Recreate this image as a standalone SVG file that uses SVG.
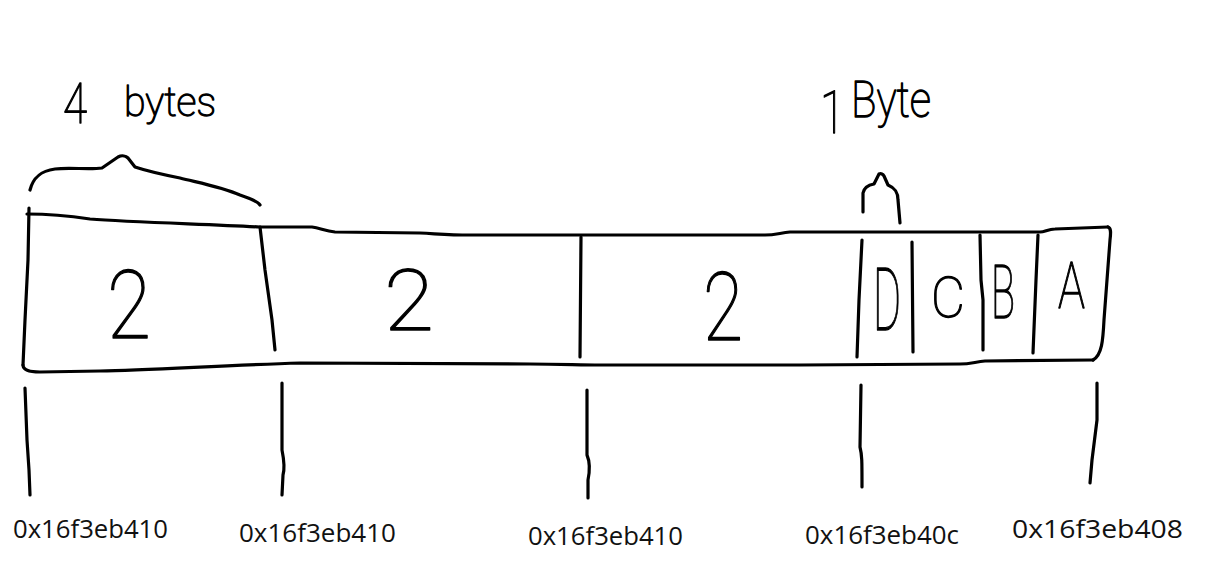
<svg xmlns="http://www.w3.org/2000/svg" width="1212" height="568" viewBox="0 0 1212 568">
<style>
.s{fill:none;stroke:#000;stroke-width:3.2;stroke-linecap:round;stroke-linejoin:round}
.h{font-family:Roboto,"DejaVu Sans",sans-serif;font-weight:100;fill:#000;stroke:#000;stroke-width:1.3;stroke-linejoin:round}
.a{font-family:"Open Sans","Noto Sans",sans-serif;font-size:25px;fill:#111}
</style>
<rect width="1212" height="568" fill="#fff"/>
<g id="bar">
<path class="s" d="M27,214 C45,214 70,216 90,219 C130,222 200,224 260,227 L312,227 C320,228 325,231 335,232 L420,233 C440,234 450,235 470,235 L765,235 C775,235 780,233 790,232 L1040,232 C1045,232 1048,229 1055,229 L1108,227"/>
<path class="s" d="M1108,227 C1111,228 1111,232 1110,240 L1104,320 C1103,340 1102,355 1093,360"/>
<path class="s" d="M1093,360 L985,361 C975,362 970,364 960,364 L800,365 L600,365 C580,365 560,364 530,364 L300,363 C230,365 150,370 100,371 L40,372 C28,372 23,370 23,365"/>
<path class="s" d="M29,208 L28,260 L25,320 L23,365"/>
</g>
<g id="cell-1">
<path class="s" d="M260,227 L265,270 L272,320 L275,350"/>
<text class="h" x="107" y="338" font-size="95" textLength="44" lengthAdjust="spacingAndGlyphs">2</text>
</g>
<g id="cell-2">
<path class="s" d="M581,237 L580,357"/>
<text class="h" x="384" y="330" font-size="85" textLength="50" lengthAdjust="spacingAndGlyphs">2</text>
</g>
<g id="cell-3">
<path class="s" d="M862,240 L859,300 L857,357"/>
<text class="h" x="703" y="340" font-size="95" textLength="40" lengthAdjust="spacingAndGlyphs">2</text>
</g>
<g id="byte-D">
<path class="s" d="M912,242 L913,352"/>
<text class="h" x="873" y="330" font-size="88" textLength="28" lengthAdjust="spacingAndGlyphs">D</text>
</g>
<g id="byte-C">
<path class="s" d="M980,235 L981,280 L983,300 L983,350"/>
<text class="h" x="931" y="317" font-size="56" textLength="34" lengthAdjust="spacingAndGlyphs">C</text>
</g>
<g id="byte-B">
<path class="s" d="M1038,235 L1036,280 L1033,353"/>
<text class="h" x="991" y="318" font-size="75" textLength="24" lengthAdjust="spacingAndGlyphs">B</text>
</g>
<g id="byte-A">
<text class="h" x="1058" y="308" font-size="65" textLength="27" lengthAdjust="spacingAndGlyphs">A</text>
</g>
<g id="label-4bytes">
<path class="s" d="M30,190 C33,178 40,171 55,169 C70,167 88,170 102,168 L118,157 C122,155 126,156 128,158 L135,167 C150,172 165,175 180,178 C200,183 222,187 240,195 C252,199 258,202 260,205"/>
<text class="h" x="63" y="123" font-size="56" textLength="24" lengthAdjust="spacingAndGlyphs">4</text>
<text class="h" x="124" y="116" font-size="40" textLength="92" lengthAdjust="spacingAndGlyphs">bytes</text>
</g>
<g id="label-1byte">
<path class="s" d="M863,212 L863,193 C864,188 868,185 874,184 L879,174 C881,173 883,174 884,176 L888,185 C895,188 898,192 898,200 L900,223"/>
<text class="h" x="820" y="133" font-size="60" textLength="25" lengthAdjust="spacingAndGlyphs">1</text>
<text class="h" x="851" y="117" font-size="50" textLength="80" lengthAdjust="spacingAndGlyphs">Byte</text>
</g>
<g id="connectors">
<path class="s" d="M25,388 L27,440 L29,470 L30,495"/>
<path class="s" d="M282,383 L282,450 C284,460 285,468 283,475 L282,495"/>
<path class="s" d="M587,390 L587,455 C590,462 590,470 588,480 L588,498"/>
<path class="s" d="M861,385 L860,447 C862,455 862,460 862,487"/>
<path class="s" d="M1097,383 L1097,420 L1092,460 L1090,483"/>
</g>
<g id="addresses">
<text class="a" x="13" y="538" textLength="155" lengthAdjust="spacingAndGlyphs">0x16f3eb410</text>
<text class="a" x="239" y="542" textLength="157" lengthAdjust="spacingAndGlyphs">0x16f3eb410</text>
<text class="a" x="528" y="545" textLength="155" lengthAdjust="spacingAndGlyphs">0x16f3eb410</text>
<text class="a" x="805" y="544" textLength="154" lengthAdjust="spacingAndGlyphs">0x16f3eb40c</text>
<text class="a" x="1012" y="538" font-size="27.5" textLength="171" lengthAdjust="spacingAndGlyphs">0x16f3eb408</text>
</g>
</svg>
